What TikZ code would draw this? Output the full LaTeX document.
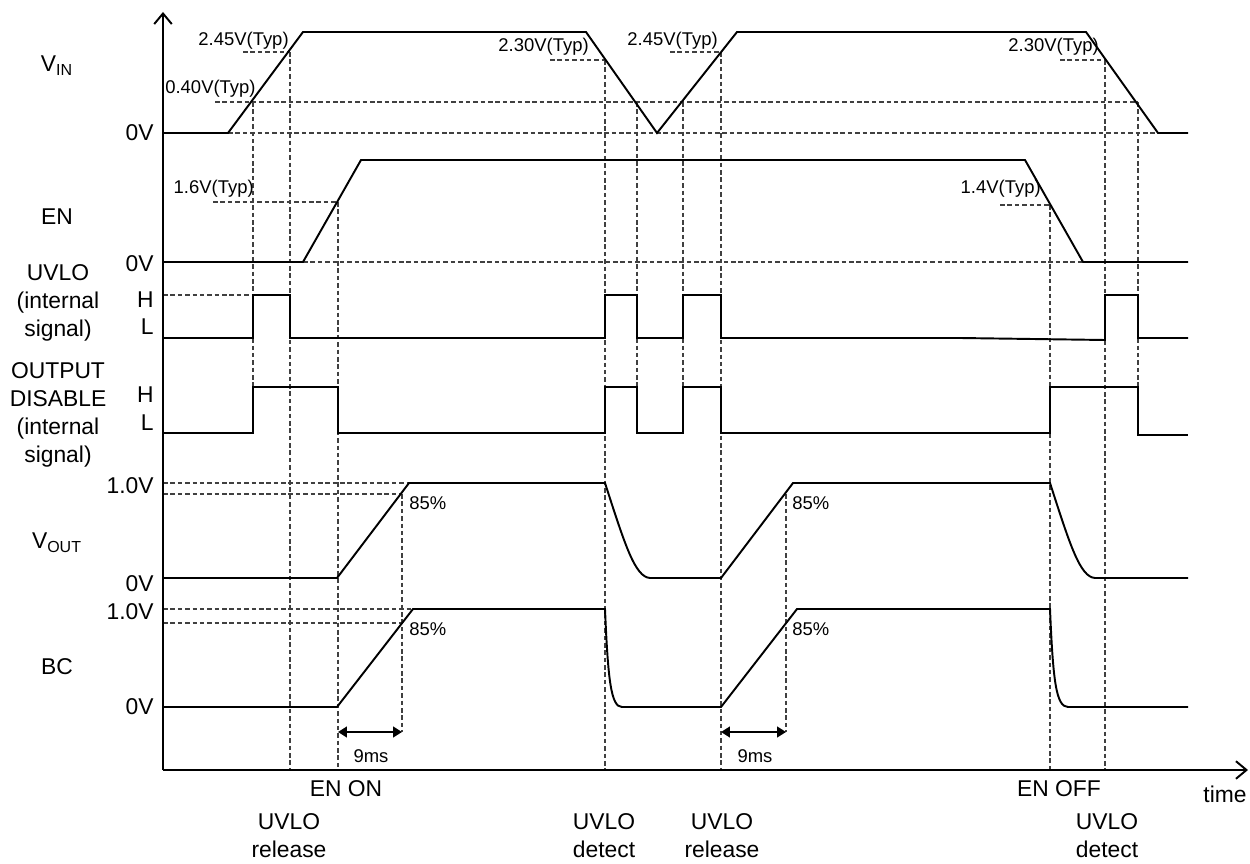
\documentclass[tikz,border=0pt]{standalone}
\usepackage{fontspec}
\setmainfont{Liberation Sans}
\usetikzlibrary{arrows.meta}

\begin{document}
\begin{tikzpicture}[
    x=0.02cm, y=-0.02cm,
    every node/.style={font=\fontsize{13}{15.9}\selectfont, inner sep=0pt},
    wave/.style={line width=1.1pt, line join=miter},
    guide/.style={black!75, line width=0.6pt, dash pattern=on 2.6pt off 1.6pt},
    axis/.style={line width=1.1pt, -{Straight Barb[length=6pt,width=10pt]}},
    thr/.style={font=\fontsize{10.5}{12}\selectfont},
    sig/.style={align=center},
    dimarrow/.style={line width=1.1pt, {Triangle[length=5pt,width=6pt]}-{Triangle[length=5pt,width=6pt]}}
]
\useasboundingbox (0,0) rectangle (1250,864);
\coordinate (origin) at (163,770);
\coordinate (ytop) at (163,12);
\coordinate (xend) at (1248,770);

% guide lines (levels)
\draw[guide] (228,133) -- (1158,133);
\draw[guide] (215,102) -- (1138,102);
\draw[guide] (243,52) -- (290,52);
\draw[guide] (550,60) -- (605,60);
\draw[guide] (670,52) -- (721,52);
\draw[guide] (1060,60) -- (1105,60);
\draw[guide] (213,202) -- (338,202);
\draw[guide] (1000,205) -- (1050,205);
\draw[guide] (303,262) -- (1083,262);
\draw[guide] (163,295) -- (253,295);
\draw[guide] (163,483) -- (409,483);
\draw[guide] (163,494) -- (402,494);
\draw[guide] (163,609) -- (413,609);
\draw[guide] (163,623) -- (402,623);
% guide lines (events)
\foreach \x/\ya/\yb in {253/102/433, 290/52/770, 338/202/770, 605/60/770,
    637/102/433, 683/102/433, 721/52/770, 1050/205/770, 1105/60/770,
    1138/102/433, 402/494/732, 786/494/732}
  \draw[guide] (\x,\ya) -- (\x,\yb);

% axes
\draw[axis] (origin) -- (ytop);
\draw[axis] (origin) -- (xend);

% V_IN
\draw[wave] (163,133) -- (228,133) -- (303,32) -- (586,32) -- (657,133) -- (737,32)
  -- (1086,32) -- (1158,133) -- (1188,133);
% EN
\draw[wave] (163,262) -- (303,262) -- (361,160) -- (1025,160) -- (1083,262) -- (1188,262);
% UVLO
\draw[wave] (163,338) -- (253,338) -- (253,295) -- (290,295) -- (290,338) -- (605,338)
  -- (605,295) -- (637,295) -- (637,338) -- (683,338) -- (683,295) -- (721,295)
  -- (721,338) -- (960,338) -- (1105,340) -- (1105,295) -- (1138,295) -- (1138,338) -- (1188,338);
% OUTPUT DISABLE
\draw[wave] (163,433) -- (253,433) -- (253,387) -- (338,387) -- (338,433) -- (605,433)
  -- (605,387) -- (637,387) -- (637,433) -- (683,433) -- (683,387) -- (721,387)
  -- (721,433) -- (1050,433) -- (1050,387) -- (1138,387) -- (1138,435) -- (1188,435);
% V_OUT
\draw[wave] (163,578) -- (337,578) -- (409,483) -- (605,483)
  .. controls (625,545) and (635,577) .. (650,578) -- (721,578) -- (793,483) -- (1050,483)
  .. controls (1070,545) and (1080,577) .. (1095,578) -- (1188,578);
% BC
\draw[wave] (163,707) -- (337,707) -- (413,609) -- (605,609)
  .. controls (608,680) and (611,707) .. (622,707) -- (721,707) -- (797,609) -- (1050,609)
  .. controls (1053,680) and (1056,707) .. (1068,707) -- (1188,707);

% soft-start time
\draw[dimarrow] (338,732) -- (402,732);
\draw[dimarrow] (721,732) -- (786,732);
\node[thr] (ssa) at (371,756) {9ms};
\node[thr] (ssb) at (755,756) {9ms};

% thresholds
\node[thr, anchor=east] (vinup) at (289,41) {2.45V(Typ)};
\node[thr, anchor=west] (vinlow) at (165,89) {0.40V(Typ)};
\node[thr, anchor=east] (vindna) at (589,47) {2.30V(Typ)};
\node[thr, anchor=east] (vinupb) at (718,41) {2.45V(Typ)};
\node[thr, anchor=east] (vindnb) at (1099,47) {2.30V(Typ)};
\node[thr, anchor=east] (enup) at (254,189) {1.6V(Typ)};
\node[thr, anchor=east] (endn) at (1041,189) {1.4V(Typ)};
\node[thr, anchor=west] (pcta) at (409,503) {85\%};
\node[thr, anchor=west] (pctb) at (409,629) {85\%};
\node[thr, anchor=west] (pctc) at (792,503) {85\%};
\node[thr, anchor=west] (pctd) at (792,629) {85\%};

% levels on the axis
\foreach \y/\lbl/\nm in {133/0V/vinz, 264/0V/enz, 300/H/uvh, 327/L/uvl, 395/H/odh, 423/L/odl,
    486/1.0V/voh, 584/0V/voz, 612/1.0V/bch, 707/0V/bcz}
  \node[anchor=east] (\nm) at (154,\y) {\lbl};

% signal names
\node (vin) at (57,66) {V\textsubscript{IN}};
\node (en) at (57,217) {EN};
\node[sig] (uvlo) at (58,303) {UVLO\\(internal\\signal)};
\node[sig] (odis) at (58,415) {OUTPUT\\DISABLE\\(internal\\signal)};
\node (vout) at (57,543) {V\textsubscript{OUT}};
\node (bc) at (57,667) {BC};

% events
\node (enon) at (346,789) {EN ON};
\node (enoff) at (1059,789) {EN OFF};
\node (time) at (1225,794) {time};
\node[sig] (rela) at (289,836) {UVLO\\release};
\node[sig] (deta) at (604,836) {UVLO\\detect};
\node[sig] (relb) at (722,836) {UVLO\\release};
\node[sig] (detb) at (1107,836) {UVLO\\detect};
\end{tikzpicture}
\end{document}
